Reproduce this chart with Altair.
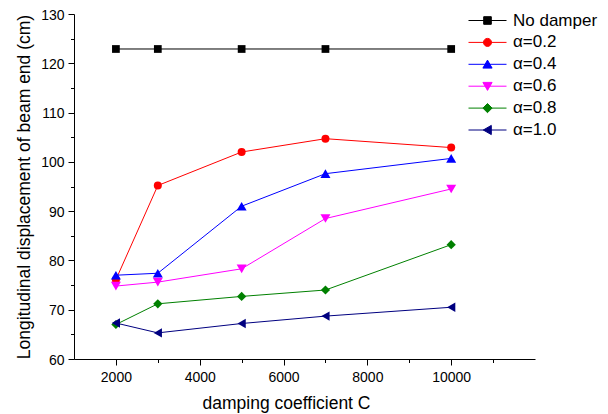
import altair as alt
import pandas as pd

# ---- data ----
x_vals = [2000, 3000, 5000, 7000, 10000]
series_names = ["No damper", "α=0.2", "α=0.4", "α=0.6", "α=0.8", "α=1.0"]
no_damper = [122.9, 122.9, 122.9, 122.9, 122.9]
alpha_02 = [76.1, 95.2, 102.0, 104.7, 102.9]
alpha_04 = [77.0, 77.4, 91.0, 97.6, 100.7]
alpha_06 = [74.8, 75.6, 78.3, 88.5, 94.5]
alpha_08 = [67.0, 71.2, 72.7, 74.0, 83.2]
alpha_10 = [67.3, 65.3, 67.2, 68.7, 70.5]

x_major = [2000, 4000, 6000, 8000, 10000]
x_minor = [3000, 5000, 7000, 9000, 11000]
y_major = [60, 70, 80, 90, 100, 110, 120, 130]
y_minor = [65, 75, 85, 95, 105, 115, 125]

# ---- styles ----
colors = ["#000000", "#FF0000", "#0000FF", "#FF00FF", "#008000", "#000080"]
shapes = ["square", "circle", "triangle-up", "triangle-down", "diamond", "triangle-left"]
marker_sizes = [60, 64, 100, 100, 85, 90]
leg_line = "M-4.75,0H4.75"
legend_paths = [
    leg_line + "M-0.95,-0.95H0.95V0.95H-0.95Z",
    leg_line + "M-1,0A1,1,0,1,0,1,0A1,1,0,1,0,-1,0Z",
    leg_line + "M0,-1.05L1.15,0.95H-1.15Z",
    leg_line + "M0,1.05L1.15,-0.95H-1.15Z",
    leg_line + "M0,-1.15L1.15,0L0,1.15L-1.15,0Z",
    leg_line + "M-1.05,0L0.95,-1.15V1.15Z",
]

all_series = [no_damper, alpha_02, alpha_04, alpha_06, alpha_08, alpha_10]
rows = []
for name, vals, col, shp, msz in zip(series_names, all_series, colors, shapes, marker_sizes):
    for xv, yv in zip(x_vals, vals):
        rows.append({"x": xv, "y": yv, "series": name, "col": col, "shp": shp, "msize": msz})
df = pd.DataFrame(rows)

FONT = "Liberation Sans"
xscale = alt.Scale(domain=[1000, 12000], nice=False, zero=False)
yscale = alt.Scale(domain=[60, 130], nice=False, zero=False)

x_axis_major = alt.Axis(values=x_major, title="damping coefficient C", tickSize=6,
                        labelPadding=5, titlePadding=10, titleX=212, grid=False, format="d")
y_axis_major = alt.Axis(values=y_major, title="Longitudinal displacement of beam end (cm)",
                        tickSize=6, labelPadding=4, titlePadding=7, labelOffset=1,
                        grid=False, orient="left")
x_axis_minor = alt.Axis(values=x_minor, labels=False, title=None, tickSize=3.5, domain=False,
                        grid=False, orient="bottom")
y_axis_minor = alt.Axis(values=y_minor, labels=False, title=None, tickSize=3.5, domain=False,
                        grid=False, orient="left")

base = alt.Chart(df)

lines = base.mark_line(strokeWidth=1).encode(
    x=alt.X("x:Q", scale=xscale, axis=x_axis_major),
    y=alt.Y("y:Q", scale=yscale, axis=y_axis_major),
    detail="series:N",
    stroke=alt.Stroke("col:N", scale=None, legend=None),
)

points = base.mark_point(filled=True, opacity=1).encode(
    x=alt.X("x:Q", scale=xscale, axis=x_axis_minor),
    y=alt.Y("y:Q", scale=yscale, axis=y_axis_minor),
    fill=alt.Fill("col:N", scale=None, legend=None),
    shape=alt.Shape("shp:N", scale=None, legend=None),
    size=alt.Size("msize:Q", scale=None, legend=None),
)

leg = alt.Legend(title=None, orient="none", legendX=405, legendY=-2, labelFontSize=17,
                 labelFont=FONT, labelColor="black", symbolSize=64, symbolStrokeWidth=1,
                 labelOffset=17, rowPadding=3.9, padding=0)

legend_layer = base.transform_filter("false").mark_point(
    filled=True, size=64, strokeWidth=1, opacity=1
).encode(
    x=alt.X("x:Q", scale=xscale, axis=None),
    y=alt.Y("y:Q", scale=yscale, axis=None),
    fill=alt.Fill("series:N", scale=alt.Scale(domain=series_names, range=colors), legend=leg),
    stroke=alt.Stroke("series:N", scale=alt.Scale(domain=series_names, range=colors), legend=leg),
    shape=alt.Shape("series:N", scale=alt.Scale(domain=series_names, range=legend_paths), legend=leg),
)

chart = alt.layer(lines, points, legend_layer).resolve_axis(
    x="independent", y="independent"
).resolve_scale(
    fill="independent", stroke="independent", shape="independent"
).resolve_legend(
    fill="independent", stroke="independent", shape="independent"
).properties(
    width=461, height=345,
    autosize=alt.AutoSizeParams(type="none"),
    padding={"left": 66, "top": 6, "right": 65, "bottom": 55},
).configure_view(
    stroke=None
).configure_axis(
    labelFont=FONT, titleFont=FONT, labelFontSize=14, titleFontSize=17.5,
    labelColor="black", titleColor="black", titleFontWeight="normal",
    domainColor="black", tickColor="black", domainWidth=1, tickWidth=1,
)

chart.save("out.html", embed_options={"renderer": "svg", "actions": False})
